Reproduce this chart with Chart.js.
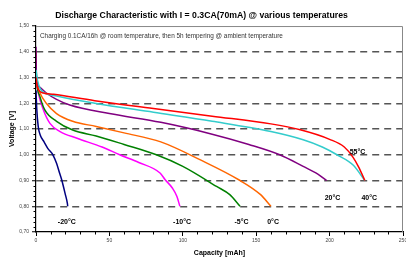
<!DOCTYPE html>
<html>
<head>
<meta charset="utf-8">
<script src="https://cdn.jsdelivr.net/npm/chart.js@4"></script>
<style>
  body { margin: 0; background: #fff; }
</style>
</head>
<body>
<canvas id="grafico" width="406" height="260"></canvas>
<script>
// discharge curves, capacity [mAh] vs voltage [V]
const cap55 = [0, 1, 5, 12, 40, 80, 120, 160, 180, 200, 210, 216, 220, 224];
const volt55 = [1.30, 1.26, 1.24, 1.235, 1.21, 1.18, 1.15, 1.12, 1.097, 1.06, 1.03, 0.99, 0.95, 0.90];

const cap40 = [0, 1, 3, 6, 14, 40, 80, 120, 160, 182, 195, 205, 216, 224];
const volt40 = [1.33, 1.29, 1.255, 1.24, 1.228, 1.20, 1.165, 1.13, 1.09, 1.058, 1.03, 1.00, 0.96, 0.90];

const cap20 = [0, 0.3, 2, 7, 14, 23, 50, 85, 120, 145, 166, 182, 192, 198];
const volt20 = [1.42, 1.30, 1.265, 1.24, 1.215, 1.193, 1.16, 1.126, 1.08, 1.04, 1.00, 0.955, 0.925, 0.90];

const cap0 = [0, 0.3, 1, 2.7, 7, 14, 25, 41, 60, 85, 112, 139, 153, 160];
const volt0 = [1.40, 1.30, 1.27, 1.24, 1.20, 1.16, 1.13, 1.11, 1.085, 1.05, 0.98, 0.90, 0.845, 0.80];

const capM5 = [0, 0.5, 2.7, 6, 14, 25, 41, 60, 82, 100, 123, 132, 139];
const voltM5 = [1.33, 1.28, 1.226, 1.174, 1.13, 1.096, 1.073, 1.04, 1.00, 0.955, 0.877, 0.845, 0.80];

const capM10 = [0, 1.6, 5, 9.5, 16.4, 28, 45, 57, 70, 84.5, 88, 93, 96, 98];
const voltM10 = [1.30, 1.24, 1.175, 1.122, 1.09, 1.064, 1.03, 1.00, 0.97, 0.929, 0.903, 0.87, 0.838, 0.80];

const capM20 = [0, 0.5, 1.5, 3, 5.5, 8, 11.5, 14, 16, 17.5, 19.8, 21.4, 21.6];
const voltM20 = [1.25, 1.18, 1.11, 1.075, 1.05, 1.025, 1.00, 0.967, 0.93, 0.903, 0.85, 0.81, 0.80];

const temperaturas = ['55°C', '40°C', '20°C', '0°C', '-5°C', '-10°C', '-20°C'];
const cores = ['#ff0000', '#33cccc', '#800080', '#ff6600', '#008000', '#ff00ff', '#000080'];

// where the temperature labels sit (data units)
const labelCap = [219, 227, 202, 161.5, 140, 99.5, 21];
const labelVolt = [1.012, 0.833, 0.833, 0.74, 0.74, 0.74, 0.74];

const nota = 'Charging 0.1CA/16h @ room temperature, then 5h tempering @ ambient temperature';

const caps = [cap55, cap40, cap20, cap0, capM5, capM10, capM20];
const volts = [volt55, volt40, volt20, volt0, voltM5, voltM10, voltM20];

function pontos(xs, ys) {
    return xs.map(function(x, i) { return {x: x, y: ys[i]} })
}

const fonte = 'Liberation Sans, Arial, sans-serif';

const extras = {
    id: 'extras',
    afterDraw(chart) {
        const ctx = chart.ctx;
        const a = chart.chartArea;
        const sx = chart.scales.x, sy = chart.scales.y;
        ctx.save();
        // top and right frame
        ctx.strokeStyle = '#888';
        ctx.lineWidth = 1;
        ctx.beginPath();
        ctx.moveTo(a.left, a.top + 0.5);
        ctx.lineTo(a.right - 0.5, a.top + 0.5);
        ctx.lineTo(a.right - 0.5, a.bottom);
        ctx.stroke();
        // minor ticks
        ctx.strokeStyle = '#000';
        ctx.beginPath();
        for (let c = 10; c < 250; c += 10) {
            if (c % 50 === 0) continue;
            const px = Math.round(sx.getPixelForValue(c)) + 0.5;
            ctx.moveTo(px, a.bottom);
            ctx.lineTo(px, a.bottom + 2.5);
        }
        for (let k = 36; k < 75; k++) {
            if (k % 5 === 0) continue;
            const py = Math.round(sy.getPixelForValue(k / 50)) + 0.5;
            ctx.moveTo(a.left - 2.5, py);
            ctx.lineTo(a.left, py);
        }
        ctx.stroke();
        // note
        ctx.fillStyle = '#333';
        ctx.font = '6.4px ' + fonte;
        ctx.textAlign = 'left';
        ctx.textBaseline = 'middle';
        ctx.fillText(nota, a.left + 4, a.top + 10);
        // temperature labels
        ctx.fillStyle = '#000';
        ctx.font = 'bold 7px ' + fonte;
        ctx.textAlign = 'center';
        temperaturas.forEach(function(t, i) {
            ctx.fillText(t, sx.getPixelForValue(labelCap[i]), sy.getPixelForValue(labelVolt[i]));
        });
        ctx.restore();
    }
};

let grafico = document.getElementById('grafico').getContext('2d');
let chart = new Chart(grafico, {
    type: 'scatter',
    data: {
        datasets: temperaturas.map(function(t, i) {
            return {
                label: t,
                data: pontos(caps[i], volts[i]),
                showLine: true,
                borderColor: cores[i],
                backgroundColor: cores[i],
                borderWidth: 1.5,
                pointRadius: 0,
                cubicInterpolationMode: 'monotone'
            }
        })
    },
    options: {
        responsive: false,
        animation: false,
        layout: { padding: { left: 0, right: 3, top: 0, bottom: 0 } },
        plugins: {
            legend: { display: false },
            tooltip: { enabled: false },
            title: {
                display: true,
                text: 'Discharge Characteristic with I = 0.3CA(70mA) @ various temperatures',
                color: '#000',
                font: { family: fonte, size: 8.7, weight: 'bold' },
                padding: { top: 10, bottom: 5.6 }
            }
        },
        scales: {
            x: {
                type: 'linear',
                min: 0,
                max: 250,
                ticks: {
                    stepSize: 50,
                    color: '#444',
                    padding: 2,
                    maxRotation: 0,
                    font: { family: fonte, size: 5 }
                },
                grid: { drawOnChartArea: false, drawTicks: true, tickLength: 4, tickColor: '#000' },
                border: { color: '#000', width: 1.2 },
                title: {
                    display: true,
                    text: 'Capacity [mAh]',
                    color: '#000',
                    font: { family: fonte, size: 7, weight: 'bold' },
                    padding: { top: 3, bottom: 3 }
                },
                afterFit(scale) {
                    scale.height = 28;
                    scale.paddingLeft = 0;
                    scale.paddingRight = 0;
                }
            },
            y: {
                min: 0.7,
                max: 1.5,
                ticks: {
                    stepSize: 0.1,
                    color: '#444',
                    padding: 3,
                    font: { family: fonte, size: 5 },
                    callback: function(v) { return v.toFixed(2).replace('.', ',') }
                },
                grid: {
                    color: function(c) {
                        if (!c.tick) return '#555';
                        const v = c.tick.value;
                        if (Math.abs(v - 0.7) < 1e-6 || Math.abs(v - 1.5) < 1e-6) return 'rgba(0,0,0,0)';
                        return '#555';
                    },
                    lineWidth: 1.5,
                    tickLength: 4,
                    tickColor: '#000',
                    tickWidth: 1
                },
                border: { color: '#000', width: 1.2, dash: [7, 5] },
                title: {
                    display: true,
                    text: 'Voltage [V]',
                    color: '#000',
                    font: { family: fonte, size: 7, weight: 'bold' },
                    padding: { top: 8, bottom: 0 }
                },
                afterFit(scale) {
                    scale.width = 36;
                    scale.paddingTop = 0;
                    scale.paddingBottom = 0;
                }
            }
        }
    },
    plugins: [extras]
});
</script>
</body>
</html>
